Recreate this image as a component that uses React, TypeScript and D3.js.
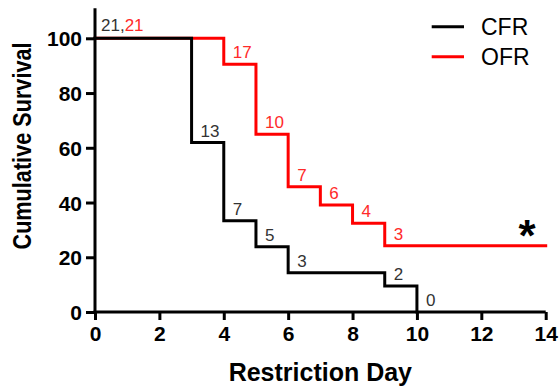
import * as d3 from 'd3';
import { useRef, useEffect } from 'react';

// Kaplan-Meier steps
const cfrDays = [0, 3, 4, 5, 6, 9, 10];
const cfrSurvival = [100, 61.9, 33.3, 23.8, 14.3, 9.5, 0];
const cfrAtRisk = [21, 13, 7, 5, 3, 2, 0];

const ofrDays = [0, 4, 5, 6, 7, 8, 9, 14];
const ofrSurvival = [100, 90.5, 64.9, 45.8, 39.1, 32.4, 24.2, 24.2];
const ofrAtRisk = [21, 17, 10, 7, 6, 4, 3];

const xTicks = [0, 2, 4, 6, 8, 10, 12, 14];
const yTicks = [0, 20, 40, 60, 80, 100];

const series = [
  { name: 'CFR', color: '#000000', label: '#333333', days: cfrDays, values: cfrSurvival, atRisk: cfrAtRisk },
  { name: 'OFR', color: '#ff0000', label: '#ff2a2a', days: ofrDays, values: ofrSurvival, atRisk: ofrAtRisk },
];

const FONT = '"Liberation Sans", Arial, Helvetica, sans-serif';

const App: React.FC = () => {
  const ref = useRef<SVGSVGElement>(null);
  const width = 560;
  const height = 388;

  useEffect(() => {
    if (!ref.current) return;
    const svg = d3.select(ref.current);
    svg.selectAll('*').remove();

    const x = d3.scaleLinear().domain([0, 14]).range([95, 545.7]);
    const y = d3.scaleLinear().domain([0, 100]).range([312, 38.3]);

    const g = svg.append('g').style('font-family', FONT);

    // curves: red under black
    const line = d3.line<[number, number]>()
      .x(d => x(d[0]))
      .y(d => y(d[1]))
      .curve(d3.curveStepAfter);

    [series[1], series[0]].forEach(s => {
      const pts = s.days.map((d, i) => [d, s.values[i]] as [number, number]);
      g.append('path')
        .attr('d', line(pts))
        .attr('fill', 'none')
        .attr('stroke', s.color)
        .attr('stroke-width', 3)
        .attr('stroke-linejoin', 'miter')
        .attr('stroke-linecap', 'square');
    });

    // number-at-risk labels (first one shared)
    const first = g.append('text')
      .attr('x', x(0) + 6)
      .attr('y', y(100) - 7)
      .attr('font-size', 17);
    first.append('tspan').attr('fill', series[0].label).text(`${cfrAtRisk[0]},`);
    first.append('tspan').attr('fill', series[1].label).text(`${ofrAtRisk[0]}`);

    series.forEach(s => {
      g.append('g')
        .selectAll('text')
        .data(s.atRisk.slice(1))
        .join('text')
        .attr('x', (_, i) => x(s.days[i + 1]) + 9)
        .attr('y', (_, i) => y(s.values[i + 1]) - 6)
        .attr('font-size', 17)
        .attr('fill', s.label)
        .text(d => d);
    });

    // axes
    const xAxis = d3.axisBottom(x).tickValues(xTicks).tickSize(8).tickSizeOuter(0).tickPadding(6);
    const yAxis = d3.axisLeft(y).tickValues(yTicks).tickSize(9).tickSizeOuter(0).tickPadding(4);

    const gx = g.append('g').attr('transform', `translate(0,${y(0)})`).call(xAxis);
    const gy = g.append('g').attr('transform', `translate(${x(0)},0)`).call(yAxis);

    [gx, gy].forEach(ax => {
      ax.select('.domain').attr('stroke-width', 3).attr('stroke', '#000');
      ax.selectAll('.tick line').attr('stroke-width', 3).attr('stroke', '#000');
      ax.selectAll('.tick text')
        .attr('font-family', FONT)
        .attr('font-size', 21)
        .attr('font-weight', 'bold')
        .attr('fill', '#000');
    });
    gx.select('.domain').attr('d', `M${x(0) - 1.5},0H${x(14)}`);
    gy.select('.domain').attr('d', `M0,${y(0)}V${y(111)}`);
    gx.selectAll('.tick text').attr('dy', '0.72em');
    gy.selectAll('.tick text').attr('dy', '0.36em');

    // axis titles
    g.append('text')
      .attr('x', (x(0) + x(14)) / 2)
      .attr('y', 381)
      .attr('text-anchor', 'middle')
      .attr('font-size', 25)
      .attr('font-weight', 'bold')
      .text('Restriction Day');

    g.append('text')
      .attr('transform', `translate(31,146) rotate(-90)`)
      .attr('text-anchor', 'middle')
      .attr('font-size', 25)
      .attr('font-weight', 'bold')
      .attr('textLength', 207)
      .attr('lengthAdjust', 'spacingAndGlyphs')
      .text('Cumulative Survival');

    // legend
    const legend = g.append('g');
    series.forEach((s, i) => {
      const ly = 26.7 + i * 30;
      legend.append('line')
        .attr('x1', 431.7).attr('x2', 464)
        .attr('y1', ly).attr('y2', ly)
        .attr('stroke', s.color)
        .attr('stroke-width', 3);
      legend.append('text')
        .attr('x', 481)
        .attr('y', ly + 8.3)
        .attr('font-size', 23)
        .attr('fill', '#000')
        .text(s.name);
    });

    // significance mark
    g.append('text')
      .attr('x', 527)
      .attr('y', 251)
      .attr('text-anchor', 'middle')
      .attr('font-size', 44)
      .attr('font-weight', 'bold')
      .text('*');
  }, []);

  return (
    <svg
      ref={ref}
      width={width}
      height={height}
      style={{ position: 'absolute', left: 0, top: 0, background: '#fff' }}
    />
  );
};

export default App;
